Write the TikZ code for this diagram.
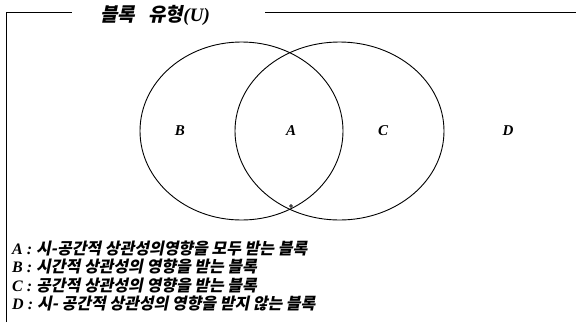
\documentclass[tikz,border=0pt]{standalone}
\usepackage{fontspec}
\setmainfont{Liberation Serif}
\newfontfamily\kr[FakeSlant=0.2]{Noto Sans CJK KR}
\begin{document}
\begin{tikzpicture}[x=1pt,y=-1pt,
  frame/.style={line width=0.9pt},
  venn/.style={line width=0.9pt},
  lbl/.style={font=\fontsize{15}{15}\selectfont\bfseries\itshape},
  legend/.style={anchor=base west,inner sep=0pt,font=\fontsize{16}{16}\selectfont},
  title/.style={anchor=base west,inner sep=0pt,font=\fontsize{19}{19}\selectfont}]
\useasboundingbox (0,0) rectangle (576,322);
% frame
\coordinate (fl) at (6,322);
\coordinate (ftl) at (6,12);
\coordinate (fle) at (72,12);
\coordinate (frs) at (265,12.5);
\coordinate (fre) at (576,12.5);
\draw[frame] (fl) -- (ftl) -- (fle);
\draw[frame] (frs) -- (fre);
\node[title] (t) at (100,21) {{\kr\bfseries 블록\hspace{9pt} 유형}{\bfseries\itshape(U)}};
% venn
\draw[venn] (241.5,131) ellipse [x radius=101.5, y radius=89];
\draw[venn] (339.5,131) ellipse [x radius=104.5, y radius=89];
\draw[line width=0.6pt] (291,206) circle [radius=1.4];
\node[lbl] (B) at (180,131) {B};
\node[lbl] (A) at (291,131) {A};
\node[lbl] (C) at (383,131) {C};
\node[lbl] (D) at (508,131) {D};
% legend
\node[legend] (la) at (12,254) {{\bfseries\itshape A :} {\kr\bfseries 시-공간적 상관성의영향을 모두 받는 블록}};
\node[legend] (lb) at (12,272.5) {{\bfseries\itshape B :} {\kr\bfseries 시간적 상관성의 영향을 받는 블록}};
\node[legend] (lc) at (12,291) {{\bfseries\itshape C :} {\kr\bfseries 공간적 상관성의 영향을 받는 블록}};
\node[legend] (ld) at (12,309.5) {{\bfseries\itshape D :} {\kr\bfseries 시- 공간적 상관성의 영향을 받지 않는 블록}};
\end{tikzpicture}
\end{document}
